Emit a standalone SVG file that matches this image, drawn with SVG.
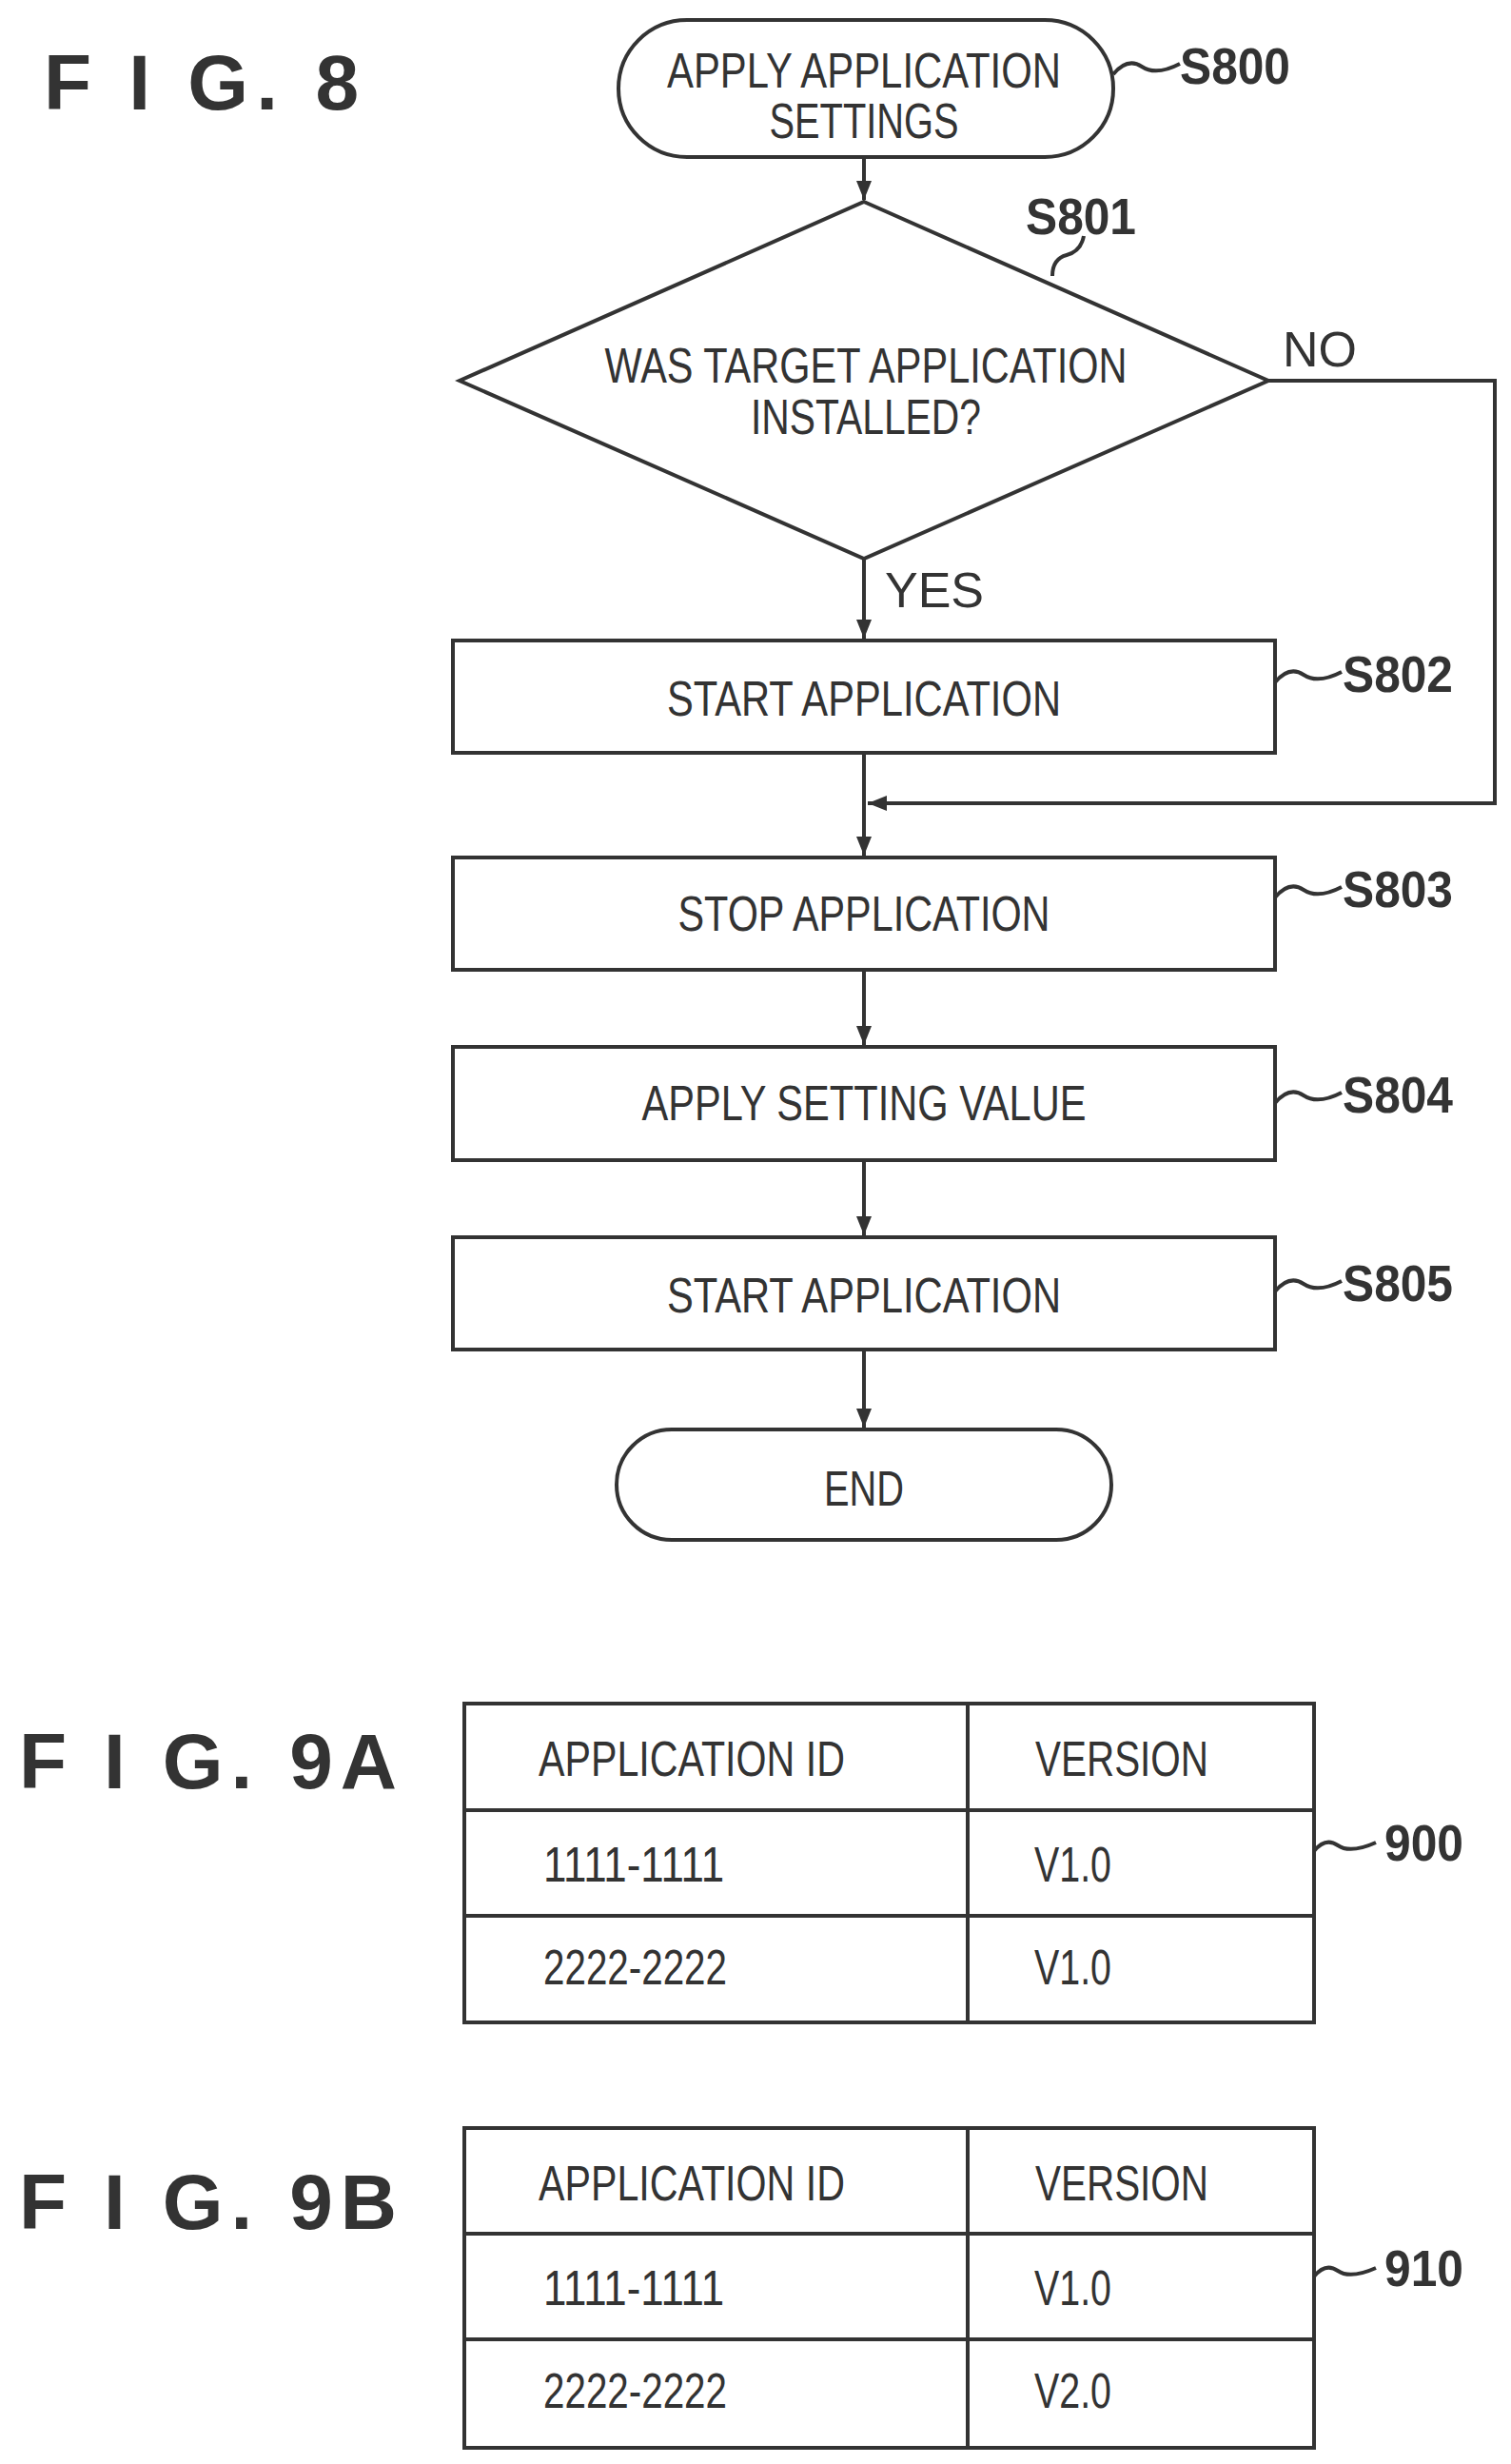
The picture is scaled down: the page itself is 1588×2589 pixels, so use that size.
<svg xmlns="http://www.w3.org/2000/svg" width="1588" height="2589" viewBox="0 0 1588 2589">
<defs>
<style>
.s{fill:none;stroke:#333;stroke-width:4}
.t{font-family:"Liberation Sans",Arial,sans-serif;font-size:52px;fill:#333;text-anchor:middle}
.l{font-family:"Liberation Sans",Arial,sans-serif;font-size:54px;font-weight:bold;fill:#333}
.f{font-family:"Liberation Sans",Arial,sans-serif;font-size:82px;font-weight:bold;fill:#333}
.c{font-family:"Liberation Sans",Arial,sans-serif;font-size:52px;fill:#333}
</style>
<marker id="a" viewBox="0 0 10 10" refX="10" refY="5" markerWidth="5" markerHeight="5" orient="auto" markerUnits="strokeWidth"><path d="M0,1 L10,5 L0,9 Z" fill="#333"/></marker>
</defs>
<rect width="1588" height="2589" fill="#fff"/>
<text class="f" x="46" y="115" textLength="331" lengthAdjust="spacing">F I G. 8</text>
<g id="connectors">
<line class="s" x1="908" y1="165" x2="908" y2="210" marker-end="url(#a)"/>
<line class="s" x1="908" y1="587" x2="908" y2="671" marker-end="url(#a)"/>
<line class="s" x1="908" y1="791" x2="908" y2="899" marker-end="url(#a)"/>
<polyline class="s" points="1333,400 1571,400 1571,844 912,844" marker-end="url(#a)"/>
<line class="s" x1="908" y1="1019" x2="908" y2="1098" marker-end="url(#a)"/>
<line class="s" x1="908" y1="1219" x2="908" y2="1298" marker-end="url(#a)"/>
<line class="s" x1="908" y1="1418" x2="908" y2="1500" marker-end="url(#a)"/>
<text class="c" x="1348" y="385">NO</text>
<text class="c" x="930" y="638">YES</text>
</g>
<g id="S800">
<rect class="s" x="650" y="21" width="520" height="144" rx="72"/>
<text class="t" x="908" y="92" textLength="414" lengthAdjust="spacingAndGlyphs">APPLY APPLICATION</text>
<text class="t" x="908" y="145" textLength="199" lengthAdjust="spacingAndGlyphs">SETTINGS</text>
<path class="s" d="M1170,78 q15,-18 30,-8 t40,-3"/>
<text class="l" x="1240" y="88" textLength="116" lengthAdjust="spacingAndGlyphs">S800</text>
</g>
<g id="S801">
<polygon class="s" points="908,212 1333,400 908,587 483,400"/>
<text class="t" x="910" y="402" textLength="549" lengthAdjust="spacingAndGlyphs">WAS TARGET APPLICATION</text>
<text class="t" x="910" y="456" textLength="242" lengthAdjust="spacingAndGlyphs">INSTALLED?</text>
<path class="s" d="M1106,290 q0,-18 15,-22 t18,-20"/>
<text class="l" x="1078" y="246" textLength="116" lengthAdjust="spacingAndGlyphs">S801</text>
</g>
<g id="S802">
<rect class="s" x="476" y="673" width="864" height="118"/>
<text class="t" x="908" y="752" textLength="414" lengthAdjust="spacingAndGlyphs">START APPLICATION</text>
<path class="s" d="M1340,717 q15,-18 30,-8 t40,-3"/>
<text class="l" x="1411" y="727" textLength="116" lengthAdjust="spacingAndGlyphs">S802</text>
</g>
<g id="S803">
<rect class="s" x="476" y="901" width="864" height="118"/>
<text class="t" x="908" y="978" textLength="391" lengthAdjust="spacingAndGlyphs">STOP APPLICATION</text>
<path class="s" d="M1340,943 q15,-18 30,-8 t40,-3"/>
<text class="l" x="1411" y="953" textLength="116" lengthAdjust="spacingAndGlyphs">S803</text>
</g>
<g id="S804">
<rect class="s" x="476" y="1100" width="864" height="119"/>
<text class="t" x="908" y="1177" textLength="467" lengthAdjust="spacingAndGlyphs">APPLY SETTING VALUE</text>
<path class="s" d="M1340,1159 q15,-18 30,-8 t40,-3"/>
<text class="l" x="1411" y="1169" textLength="116" lengthAdjust="spacingAndGlyphs">S804</text>
</g>
<g id="S805">
<rect class="s" x="476" y="1300" width="864" height="118"/>
<text class="t" x="908" y="1379" textLength="414" lengthAdjust="spacingAndGlyphs">START APPLICATION</text>
<path class="s" d="M1340,1357 q15,-18 30,-8 t40,-3"/>
<text class="l" x="1411" y="1367" textLength="116" lengthAdjust="spacingAndGlyphs">S805</text>
</g>
<g id="END">
<rect class="s" x="648" y="1502" width="520" height="116" rx="58"/>
<text class="t" x="908" y="1582" textLength="84" lengthAdjust="spacingAndGlyphs">END</text>
</g>
<text class="f" x="20" y="1879" textLength="397" lengthAdjust="spacing">F I G. 9A</text>
<g id="table900">
<rect class="s" x="488" y="1790" width="893" height="335"/>
<line class="s" x1="488" y1="1902" x2="1381" y2="1902"/>
<line class="s" x1="488" y1="2013" x2="1381" y2="2013"/>
<line class="s" x1="1017" y1="1790" x2="1017" y2="2125"/>
<text class="c" x="566" y="1866" textLength="322" lengthAdjust="spacingAndGlyphs">APPLICATION ID</text>
<text class="c" x="1088" y="1866" textLength="182" lengthAdjust="spacingAndGlyphs">VERSION</text>
<text class="c" x="571" y="1977" textLength="190" lengthAdjust="spacingAndGlyphs">1111-1111</text>
<text class="c" x="1087" y="1977" textLength="81" lengthAdjust="spacingAndGlyphs">V1.0</text>
<text class="c" x="571" y="2085" textLength="193" lengthAdjust="spacingAndGlyphs">2222-2222</text>
<text class="c" x="1087" y="2085" textLength="81" lengthAdjust="spacingAndGlyphs">V1.0</text>
<path class="s" d="M1381,1945 q12,-15 25,-6 t40,-3"/>
<text class="l" x="1455" y="1955" textLength="83" lengthAdjust="spacingAndGlyphs">900</text>
</g>
<text class="f" x="20" y="2342" textLength="397" lengthAdjust="spacing">F I G. 9B</text>
<g id="table910">
<rect class="s" x="488" y="2236" width="893" height="336"/>
<line class="s" x1="488" y1="2347" x2="1381" y2="2347"/>
<line class="s" x1="488" y1="2458" x2="1381" y2="2458"/>
<line class="s" x1="1017" y1="2236" x2="1017" y2="2572"/>
<text class="c" x="566" y="2312" textLength="322" lengthAdjust="spacingAndGlyphs">APPLICATION ID</text>
<text class="c" x="1088" y="2312" textLength="182" lengthAdjust="spacingAndGlyphs">VERSION</text>
<text class="c" x="571" y="2422" textLength="190" lengthAdjust="spacingAndGlyphs">1111-1111</text>
<text class="c" x="1087" y="2422" textLength="81" lengthAdjust="spacingAndGlyphs">V1.0</text>
<text class="c" x="571" y="2530" textLength="193" lengthAdjust="spacingAndGlyphs">2222-2222</text>
<text class="c" x="1087" y="2530" textLength="81" lengthAdjust="spacingAndGlyphs">V2.0</text>
<path class="s" d="M1381,2392 q12,-15 25,-6 t40,-3"/>
<text class="l" x="1455" y="2402" textLength="83" lengthAdjust="spacingAndGlyphs">910</text>
</g>
</svg>
